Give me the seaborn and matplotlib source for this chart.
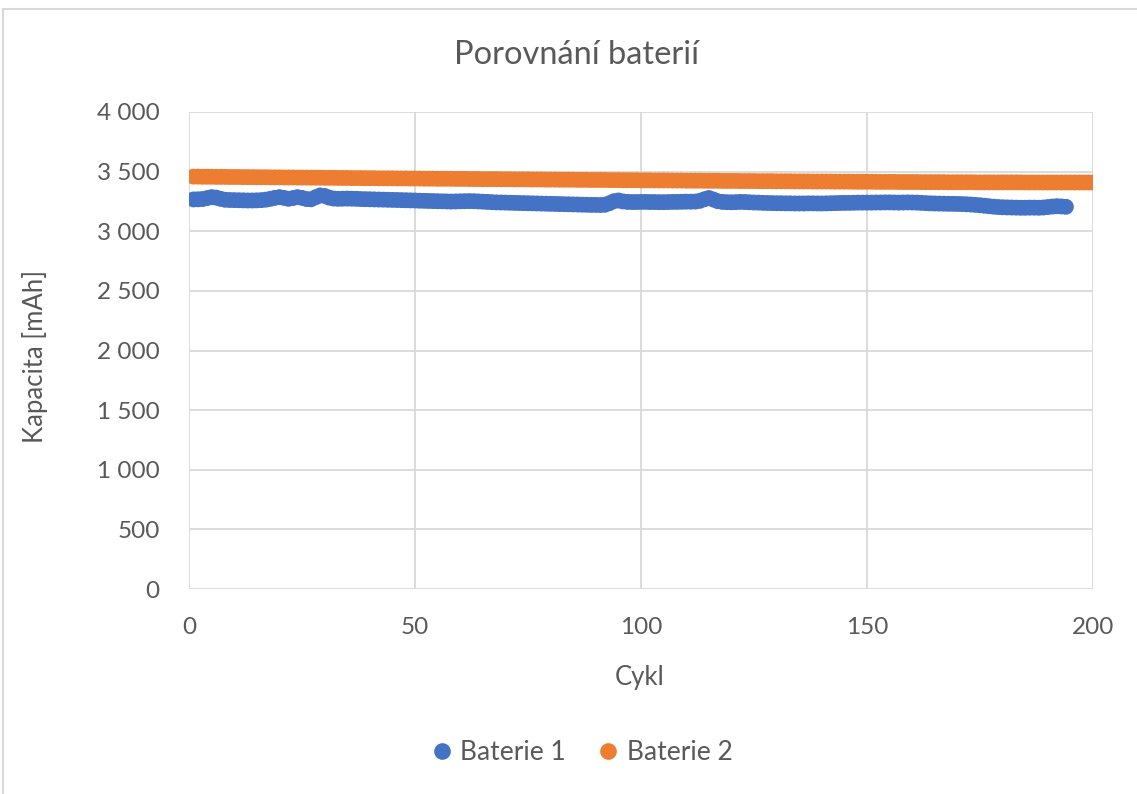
import numpy as np
import pandas as pd
import matplotlib
matplotlib.use("Agg")
import matplotlib.pyplot as plt
from matplotlib.lines import Line2D
from matplotlib.ticker import FuncFormatter
import seaborn as sns

# Capacity per cycle [mAh]
baterie_1 = [
    3267, 3268, 3270, 3278, 3286, 3282, 3272, 3264, 3262, 3261,
    3260, 3259, 3258, 3258, 3259, 3261, 3265, 3272, 3280, 3286,
    3280, 3272, 3278, 3286, 3280, 3270, 3268, 3285, 3300, 3296,
    3282, 3274, 3272, 3273, 3274, 3273, 3272, 3270, 3269, 3268,
    3267, 3266, 3265, 3264, 3263, 3262, 3261, 3260, 3259, 3258,
    3256, 3255, 3254, 3253, 3252, 3251, 3250, 3249, 3250, 3251,
    3252, 3253, 3252, 3250, 3248, 3246, 3244, 3242, 3241, 3240,
    3239, 3238, 3237, 3236, 3235, 3234, 3233, 3232, 3231, 3230,
    3229, 3228, 3227, 3226, 3225, 3224, 3223, 3222, 3221, 3221,
    3220, 3222, 3235, 3252, 3258, 3250, 3246, 3245, 3245, 3246,
    3246, 3245, 3245, 3244, 3244, 3245, 3246, 3246, 3247, 3248,
    3248, 3249, 3255, 3268, 3279, 3266, 3252, 3246, 3244, 3243,
    3244, 3246, 3245, 3243, 3241, 3240, 3238, 3237, 3236, 3235,
    3235, 3234, 3234, 3233, 3233, 3233, 3234, 3234, 3233, 3233,
    3234, 3235, 3236, 3237, 3238, 3238, 3239, 3240, 3240, 3240,
    3240, 3241, 3241, 3242, 3242, 3241, 3240, 3241, 3242, 3241,
    3240, 3238, 3236, 3234, 3233, 3232, 3231, 3230, 3230, 3229,
    3228, 3226, 3224, 3221, 3218, 3214, 3210, 3206, 3203, 3201,
    3200, 3199, 3198, 3197, 3197, 3198, 3198, 3197, 3199, 3203,
    3207, 3210, 3208, 3205,
]

baterie_2 = [
    3458, 3458, 3457, 3457, 3457, 3456, 3456, 3456, 3455, 3455,
    3455, 3454, 3454, 3454, 3453, 3453, 3453, 3452, 3452, 3452,
    3451, 3451, 3451, 3450, 3450, 3450, 3449, 3449, 3449, 3448,
    3448, 3448, 3447, 3447, 3447, 3446, 3446, 3446, 3445, 3445,
    3445, 3444, 3444, 3444, 3444, 3443, 3443, 3443, 3442, 3442,
    3442, 3441, 3441, 3441, 3440, 3440, 3440, 3440, 3439, 3439,
    3439, 3438, 3438, 3438, 3437, 3437, 3437, 3437, 3436, 3436,
    3436, 3435, 3435, 3435, 3435, 3434, 3434, 3434, 3433, 3433,
    3433, 3432, 3432, 3432, 3432, 3431, 3431, 3431, 3430, 3430,
    3430, 3430, 3429, 3429, 3429, 3428, 3428, 3428, 3428, 3427,
    3427, 3427, 3426, 3426, 3426, 3426, 3425, 3425, 3425, 3424,
    3424, 3424, 3424, 3423, 3423, 3423, 3423, 3422, 3422, 3422,
    3422, 3421, 3421, 3421, 3421, 3420, 3420, 3420, 3420, 3419,
    3419, 3419, 3419, 3418, 3418, 3418, 3418, 3417, 3417, 3417,
    3417, 3417, 3416, 3416, 3416, 3416, 3415, 3415, 3415, 3415,
    3415, 3414, 3414, 3414, 3414, 3414, 3413, 3413, 3413, 3413,
    3413, 3412, 3412, 3412, 3412, 3412, 3412, 3411, 3411, 3411,
    3411, 3411, 3411, 3410, 3410, 3410, 3410, 3410, 3410, 3410,
    3410, 3410, 3410, 3410, 3409, 3409, 3409, 3409, 3409, 3409,
    3409, 3409, 3409, 3409, 3409, 3409, 3409, 3409, 3409, 3409,
]

series_names = ["Baterie 1", "Baterie 2"]
x_ticks = [0, 50, 100, 150, 200]
y_ticks = [0, 500, 1000, 1500, 2000, 2500, 3000, 3500, 4000]

df = pd.concat([
    pd.DataFrame({"Cykl": np.arange(1, len(baterie_1) + 1),
                  "Kapacita": baterie_1, "Série": series_names[0]}),
    pd.DataFrame({"Cykl": np.arange(1, len(baterie_2) + 1),
                  "Kapacita": baterie_2, "Série": series_names[1]}),
], ignore_index=True)

sns.set_theme(style="white")
plt.rcParams["font.family"] = ["Lato", "DejaVu Sans"]
text_color = "#595959"
grid_color = "#D9D9D9"
palette = {"Baterie 1": "#4472C4", "Baterie 2": "#ED7D31"}

W, H = 1137, 794
fig = plt.figure(figsize=(W / 100, H / 100), dpi=100)
ax = fig.add_axes([189 / W, 1 - 589 / H, (1093 - 189) / W, (589 - 112) / H])

sns.scatterplot(data=df, x="Cykl", y="Kapacita", hue="Série", palette=palette,
                s=130, linewidth=0, alpha=1, legend=False, ax=ax, zorder=3)

ax.set_xlim(0, 200)
ax.set_ylim(0, 4000)
ax.set_xticks(x_ticks)
ax.set_yticks(y_ticks)
ax.yaxis.set_major_formatter(FuncFormatter(lambda v, p: f"{int(v):,}".replace(",", " ")))
ax.grid(True, color=grid_color, linewidth=1.3, zorder=0)
ax.set_axisbelow(True)
for s in ax.spines.values():
    s.set_visible(False)
ax.tick_params(axis="both", length=0, labelsize=17.5, colors=text_color)
ax.tick_params(axis="x", pad=20)
ax.tick_params(axis="y", pad=21)

ax.set_xlabel("Cykl", fontsize=18.5, color=text_color, va="center")
ax.set_ylabel("Kapacita [mAh]", fontsize=18.5, color=text_color, va="center")
ax.xaxis.set_label_coords((640 - 189) / (1093 - 189), (589 - 677) / (589 - 112))
ax.yaxis.set_label_coords((35 - 189) / (1093 - 189), (589 - 356) / (589 - 112))

fig.text(577 / W, 1 - 55 / H, "Porovnání baterií", ha="center", va="center",
         fontsize=23.5, color=text_color)

handles = [Line2D([0], [0], marker="o", linestyle="none", markersize=12,
                  markerfacecolor=palette[n], markeredgewidth=0) for n in series_names]
fig.legend(handles, series_names, loc="center", bbox_to_anchor=(582 / W, 1 - 753 / H),
           ncol=2, frameon=False, fontsize=19, handlelength=0.8, handletextpad=0.3,
           columnspacing=1.2, labelcolor=text_color)

# chart area border
fig.add_artist(Line2D([3 / W, 1.0], [1 - 9 / H, 1 - 9 / H], transform=fig.transFigure,
                      color=grid_color, linewidth=1.5))
fig.add_artist(Line2D([3 / W, 3 / W], [0.0, 1 - 9 / H], transform=fig.transFigure,
                      color=grid_color, linewidth=1.5))

fig.savefig("out.png", dpi=100, facecolor="white")
